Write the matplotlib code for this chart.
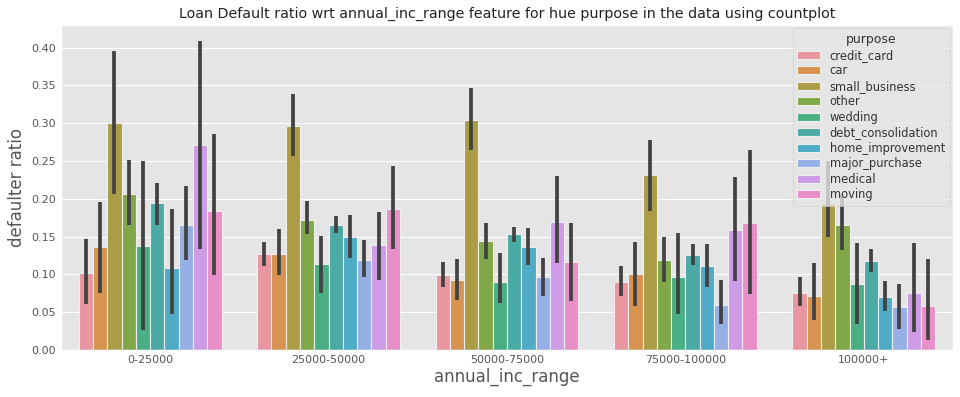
import matplotlib
matplotlib.use("Agg")
import matplotlib.pyplot as plt
import numpy as np

plt.style.use("ggplot")

categories = ["0-25000", "25000-50000", "50000-75000", "75000-100000", "100000+"]
purposes = ["credit_card", "car", "small_business", "other", "wedding",
            "debt_consolidation", "home_improvement", "major_purchase", "medical", "moving"]

# mean defaulter ratio per purpose (rows) and income range (columns)
credit_card        = [0.102, 0.127, 0.099, 0.090, 0.076]
car                = [0.136, 0.127, 0.093, 0.101, 0.072]
small_business     = [0.300, 0.297, 0.304, 0.231, 0.195]
other              = [0.206, 0.172, 0.144, 0.119, 0.166]
wedding            = [0.137, 0.114, 0.090, 0.097, 0.087]
debt_consolidation = [0.195, 0.166, 0.153, 0.126, 0.118]
home_improvement   = [0.109, 0.149, 0.136, 0.111, 0.070]
major_purchase     = [0.165, 0.119, 0.097, 0.059, 0.057]
medical            = [0.271, 0.139, 0.169, 0.159, 0.075]
moving             = [0.184, 0.186, 0.116, 0.168, 0.058]

# confidence interval lows
ci_low_credit_card        = [0.061, 0.111, 0.083, 0.071, 0.058]
ci_low_car                = [0.075, 0.099, 0.066, 0.058, 0.040]
ci_low_small_business     = [0.207, 0.257, 0.265, 0.184, 0.150]
ci_low_other              = [0.166, 0.154, 0.121, 0.090, 0.132]
ci_low_wedding            = [0.026, 0.076, 0.062, 0.047, 0.034]
ci_low_debt_consolidation = [0.166, 0.155, 0.143, 0.113, 0.103]
ci_low_home_improvement   = [0.047, 0.122, 0.112, 0.084, 0.051]
ci_low_major_purchase     = [0.119, 0.096, 0.072, 0.034, 0.028]
ci_low_medical            = [0.134, 0.092, 0.115, 0.091, 0.024]
ci_low_moving             = [0.099, 0.133, 0.065, 0.074, 0.013]

# confidence interval highs
ci_high_credit_card        = [0.147, 0.143, 0.116, 0.111, 0.097]
ci_high_car                = [0.196, 0.160, 0.121, 0.143, 0.115]
ci_high_small_business     = [0.395, 0.339, 0.346, 0.278, 0.250]
ci_high_other              = [0.252, 0.197, 0.168, 0.150, 0.205]
ci_high_wedding            = [0.250, 0.151, 0.128, 0.155, 0.141]
ci_high_debt_consolidation = [0.221, 0.177, 0.163, 0.140, 0.133]
ci_high_home_improvement   = [0.186, 0.178, 0.161, 0.140, 0.091]
ci_high_major_purchase     = [0.217, 0.145, 0.122, 0.093, 0.087]
ci_high_medical            = [0.409, 0.182, 0.230, 0.229, 0.141]
ci_high_moving             = [0.286, 0.243, 0.168, 0.265, 0.120]

means = [credit_card, car, small_business, other, wedding,
         debt_consolidation, home_improvement, major_purchase, medical, moving]
lows = [ci_low_credit_card, ci_low_car, ci_low_small_business, ci_low_other, ci_low_wedding,
        ci_low_debt_consolidation, ci_low_home_improvement, ci_low_major_purchase,
        ci_low_medical, ci_low_moving]
highs = [ci_high_credit_card, ci_high_car, ci_high_small_business, ci_high_other, ci_high_wedding,
         ci_high_debt_consolidation, ci_high_home_improvement, ci_high_major_purchase,
         ci_high_medical, ci_high_moving]

colors = ["#E896A0", "#D89350", "#AB9D46", "#80A848", "#4AAF82",
          "#4CAAA4", "#50ACC6", "#96B0E6", "#CE9BE6", "#E88FC8"]

fig = plt.figure(figsize=(9.6, 3.97), dpi=100)
ax = fig.add_axes([0.0635, 0.1184, 0.9292, 0.8186])

n = len(purposes)
group_w = 0.8
bw = group_w / n
x = np.arange(len(categories))
for i, p in enumerate(purposes):
    pos = x - group_w / 2 + bw * (i + 0.5)
    ax.bar(pos, means[i], width=bw, color=colors[i], edgecolor="#EEEEEE",
           linewidth=0.8, label=p, zorder=2)
    ax.vlines(pos, lows[i], highs[i], color="#424242", linewidth=2.7, zorder=3)

ax.set_xlim(-0.5, len(categories) - 0.5)
ax.set_ylim(0, 0.43)
ax.set_yticks(np.arange(0, 0.401, 0.05))
ax.set_xticks(x)
ax.set_xticklabels(categories)
ax.tick_params(axis="both", labelsize=8, colors="#555555", length=0)
ax.grid(axis="x", visible=False)
ax.set_axisbelow(True)

ax.set_title("Loan Default ratio wrt annual_inc_range feature for hue purpose in the data using countplot",
             fontsize=10.3, color="#222222", pad=5)
ax.set_xlabel("annual_inc_range", fontsize=12, color="#555555", labelpad=2)
ax.set_ylabel("defaulter ratio", fontsize=12, color="#555555")

leg = ax.legend(title="purpose", loc="upper right", fontsize=8.3, title_fontsize=9,
                borderaxespad=0.3, handlelength=2.0, labelspacing=0.22)
leg.get_title().set_color("#333333")
for t in leg.get_texts():
    t.set_color("#333333")

fig.savefig("out.png", dpi=100)
